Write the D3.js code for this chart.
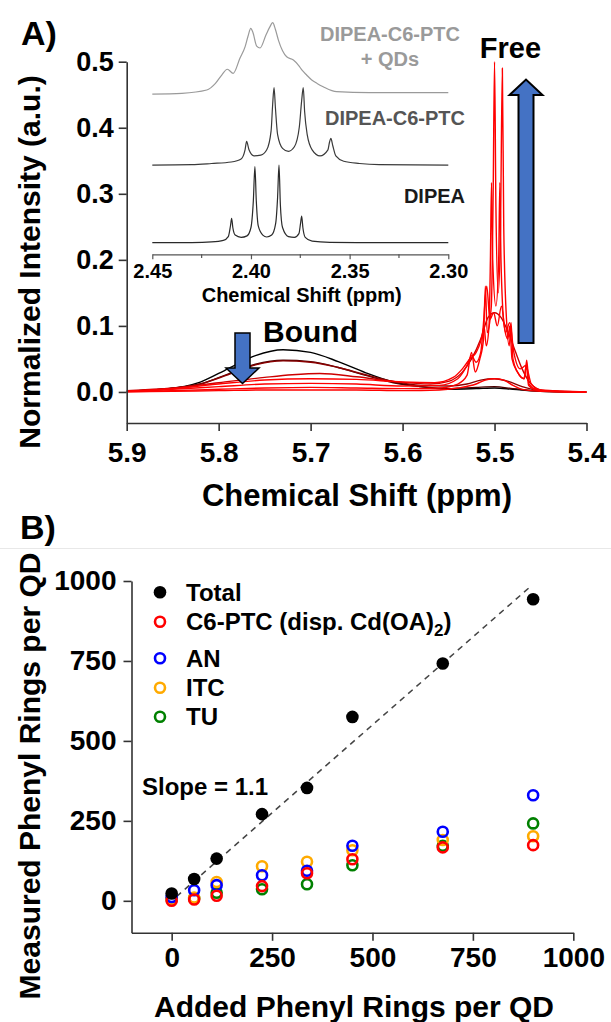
<!DOCTYPE html>
<html><head><meta charset="utf-8">
<script src="https://cdn.jsdelivr.net/npm/d3@7"></script>
<style>
body{margin:0;background:#fff;}
svg text{font-family:"Liberation Sans",Arial,sans-serif;font-weight:bold;}
</style></head>
<body><svg id="c" width="611" height="1022"></svg>
<script>
// ---------- Panel A: main spectra (ppm, normalized intensity) ----------
const mainXTicks = [5.9, 5.8, 5.7, 5.6, 5.5, 5.4];
const mainYTicks = [0.0, 0.1, 0.2, 0.3, 0.4, 0.5];
const spec1 = [[5.90,0.001],[5.86,0.004],[5.82,0.015],[5.79,0.035],[5.76,0.055],[5.73,0.064],[5.70,0.060],[5.67,0.046],[5.64,0.029],[5.61,0.015],[5.58,0.008],[5.55,0.004],[5.52,0.005],[5.50,0.006],[5.48,0.004],[5.45,0.001],[5.40,0.0]];
const spec2 = [[5.90,0.001],[5.86,0.004],[5.82,0.012],[5.79,0.027],[5.76,0.042],[5.73,0.048],[5.70,0.046],[5.67,0.037],[5.64,0.025],[5.61,0.014],[5.58,0.008],[5.55,0.005],[5.52,0.007],[5.50,0.008],[5.48,0.005],[5.45,0.001],[5.40,0.0]];
const spec3 = [[5.90,0.001],[5.86,0.004],[5.82,0.012],[5.79,0.026],[5.76,0.041],[5.73,0.047],[5.70,0.045],[5.67,0.037],[5.64,0.026],[5.61,0.016],[5.58,0.010],[5.55,0.009],[5.53,0.012],[5.515,0.018],[5.50,0.02],[5.485,0.016],[5.47,0.008],[5.45,0.002],[5.40,0.0]];
const spec4 = [[5.90,0.002],[5.85,0.006],[5.80,0.014],[5.75,0.022],[5.72,0.026],[5.69,0.028],[5.65,0.023],[5.61,0.016],[5.57,0.012],[5.55,0.016],[5.535,0.03],[5.525,0.05],[5.515,0.08],[5.507,0.113],[5.50,0.12],[5.493,0.113],[5.485,0.09],[5.477,0.06],[5.47,0.035],[5.462,0.015],[5.455,0.006],[5.445,0.002],[5.40,0.0]];
const spec5 = [[5.90,0.001],[5.85,0.005],[5.80,0.012],[5.75,0.018],[5.70,0.02],[5.65,0.019],[5.60,0.015],[5.565,0.014],[5.545,0.022],[5.535,0.035],[5.527,0.05],[5.52,0.06],[5.513,0.09],[5.5085,0.16],[5.505,0.11],[5.501,0.12],[5.497,0.1],[5.4925,0.13],[5.488,0.09],[5.4835,0.105],[5.479,0.06],[5.472,0.035],[5.466,0.04],[5.46,0.012],[5.45,0.003],[5.40,0.0]];
const spec6 = [[5.90,0.001],[5.85,0.004],[5.80,0.008],[5.75,0.012],[5.70,0.013],[5.65,0.012],[5.60,0.009],[5.56,0.01],[5.54,0.02],[5.53,0.04],[5.525,0.055],[5.52,0.045],[5.515,0.06],[5.5115,0.1],[5.509,0.07],[5.506,0.1],[5.5045,0.2],[5.5033,0.317],[5.502,0.2],[5.4985,0.13],[5.4955,0.2],[5.4942,0.317],[5.493,0.2],[5.4895,0.1],[5.4855,0.08],[5.4835,0.1],[5.481,0.05],[5.475,0.03],[5.468,0.02],[5.4655,0.04],[5.463,0.01],[5.455,0.003],[5.44,0.001],[5.40,0.0]];
const spec7 = [[5.90,0.001],[5.85,0.002],[5.80,0.004],[5.75,0.006],[5.70,0.007],[5.65,0.006],[5.60,0.005],[5.56,0.006],[5.54,0.012],[5.53,0.025],[5.525,0.06],[5.521,0.03],[5.516,0.05],[5.512,0.08],[5.510,0.16],[5.508,0.09],[5.5035,0.13],[5.5015,0.3],[5.500,0.50],[5.4985,0.28],[5.496,0.15],[5.4935,0.25],[5.4915,0.49],[5.490,0.25],[5.487,0.11],[5.484,0.07],[5.482,0.105],[5.480,0.05],[5.475,0.03],[5.4675,0.02],[5.465,0.048],[5.4625,0.012],[5.455,0.004],[5.44,0.001],[5.40,0.0]];
const spec8 = [[5.90,0.0],[5.85,0.001],[5.80,0.002],[5.75,0.003],[5.70,0.003],[5.65,0.003],[5.60,0.002],[5.56,0.003],[5.54,0.006],[5.52,0.012],[5.51,0.018],[5.50,0.02],[5.49,0.018],[5.48,0.01],[5.47,0.004],[5.45,0.001],[5.40,0.0]];
const mainSpectra = [spec1, spec2, spec3, spec8, spec4, spec5, spec6, spec7];
const mainColorsOrdered = ["#000000", "#4a0000", "#8b0000", "#ff0000", "#cc0000", "#ff0000", "#ff0000", "#ff0000"];

// ---------- Panel A inset ----------
const insetXTicks = [2.45, 2.40, 2.35, 2.30];
const insetMinorTicks = [2.425, 2.375, 2.325];
const insetNames = ["DIPEA", "DIPEA-C6-PTC", "DIPEA-C6-PTC"];
const insetOffsets = [0, 1.022, 1.966];
const insetColors = ["#2a2a2a", "#3a3a3a", "#9a9a9a"];
const insetDIPEA = [[2.45,0],[2.43,0.002],[2.42,0.01],[2.414,0.03],[2.4115,0.08],[2.4104,0.22],[2.4098,0.32],[2.4092,0.2],[2.408,0.1],[2.405,0.07],[2.402,0.09],[2.400,0.2],[2.3988,0.55],[2.398,1.0],[2.3973,0.55],[2.3963,0.22],[2.394,0.1],[2.392,0.075],[2.3895,0.1],[2.3875,0.25],[2.3865,0.6],[2.3858,1.02],[2.3851,0.5],[2.384,0.2],[2.381,0.08],[2.378,0.07],[2.3757,0.12],[2.3749,0.25],[2.3743,0.35],[2.3737,0.2],[2.3725,0.07],[2.369,0.02],[2.36,0.005],[2.34,0.001],[2.30,0]];
const insetPTC = [[2.45,0],[2.43,0.005],[2.42,0.02],[2.41,0.04],[2.405,0.08],[2.403,0.2],[2.4022,0.31],[2.401,0.2],[2.3985,0.12],[2.395,0.13],[2.392,0.2],[2.3898,0.45],[2.389,0.8],[2.3883,1.02],[2.3876,0.75],[2.3865,0.4],[2.384,0.22],[2.381,0.18],[2.378,0.24],[2.3755,0.5],[2.3743,0.85],[2.3735,1.02],[2.3728,0.7],[2.3715,0.4],[2.369,0.2],[2.365,0.12],[2.361,0.2],[2.3602,0.3],[2.3595,0.35],[2.3585,0.25],[2.357,0.12],[2.353,0.05],[2.345,0.02],[2.335,0.005],[2.30,0]];
const insetQD = [[2.45,-0.01],[2.435,0.0],[2.4224,0.043],[2.418,0.13],[2.4148,0.24],[2.412,0.316],[2.409,0.263],[2.4056,0.46],[2.403,0.61],[2.4015,0.75],[2.4001,0.855],[2.399,0.8],[2.3971,0.62],[2.3954,0.596],[2.3924,0.767],[2.3905,0.87],[2.389,0.929],[2.3876,0.84],[2.3861,0.70],[2.384,0.56],[2.3819,0.48],[2.3785,0.438],[2.376,0.372],[2.374,0.3],[2.3718,0.24],[2.3692,0.175],[2.3665,0.13],[2.3634,0.087],[2.3566,0.021],[2.34,0.008],[2.30,0.008]];
const insetSpectra = [insetDIPEA, insetPTC, insetQD];

// ---------- Panel B: scatter ----------
const addedRings = [0, 56, 112, 225, 337, 450, 675, 900];
const totalRings = [23, 68, 132, 271, 353, 575, 742, 943];
const c6ptcRings = [0, 4, 16, 46, 86, 130, 167, 174];
const anRings = [12, 33, 49, 80, 94, 172, 216, 330];
const itcRings = [5, 10, 59, 108, 122, 158, 190, 202];
const tuRings = [5, 8, 25, 36, 52, 111, 172, 242];
const bXTicks = [0, 250, 500, 750, 1000];
const bYTicks = [0, 250, 500, 750, 1000];
const fitX = [12, 890];
const fitSlope = 1.1;
const legendLabels = ["Total", "C6-PTC (disp. Cd(OA)", "AN", "ITC", "TU"];
const legendColors = ["#000000", "#ff0000", "#0000ff", "#ffaa00", "#008000"];

const svg = d3.select("#c");
const FONT = "'Liberation Sans',Arial,sans-serif";

// separator
svg.append("line").attr("x1",0).attr("x2",611).attr("y1",548.5).attr("y2",548.5).attr("stroke","#e8e8e8").attr("stroke-width",1);

// ===== Panel A =====
const xA = d3.scaleLinear().domain([5.9, 5.4]).range([126.7, 586.5]);
const yA = d3.scaleLinear().domain([-0.047, 0.5]).range([423, 61.7]);

svg.append("defs").append("clipPath").attr("id","clipA").append("rect")
  .attr("x",126.7).attr("y",40).attr("width",586.5-126.7).attr("height",383);

const lineA = d3.line().x(d=>xA(d[0])).y(d=>yA(d[1])).curve(d3.curveMonotoneX);
const gSpec = svg.append("g").attr("clip-path","url(#clipA)");
mainSpectra.forEach((s,i)=>{
  gSpec.append("path").attr("d",lineA(s)).attr("fill","none")
    .attr("stroke",mainColorsOrdered[i]).attr("stroke-width",1.4);
});

function styleAxis(g, fs){
  g.selectAll("path.domain").attr("stroke","#333").attr("stroke-width",1.6);
  g.selectAll(".tick line").attr("stroke","#333").attr("stroke-width",1.6);
  g.selectAll(".tick text").attr("font-size",fs).attr("font-family",FONT).attr("font-weight","bold").attr("fill","#000");
}
const axAy = svg.append("g").attr("transform","translate(126.7,0)")
  .call(d3.axisLeft(yA).tickValues(mainYTicks).tickFormat(d3.format(".1f")).tickSize(8).tickSizeOuter(0).tickPadding(5));
styleAxis(axAy, 27);
const axAx = svg.append("g").attr("transform","translate(0,423)")
  .call(d3.axisBottom(xA).tickValues(mainXTicks).tickFormat(d3.format(".1f")).tickSize(8).tickSizeOuter(0).tickPadding(11));
styleAxis(axAx, 28);

svg.append("text").attr("x",357).attr("y",506).attr("text-anchor","middle").attr("font-size",31).text("Chemical Shift (ppm)");
svg.append("text").attr("transform","translate(40,262) rotate(-90)").attr("text-anchor","middle").attr("font-size",30).text("Normalized Intensity (a.u.)");
svg.append("text").attr("x",21).attr("y",45).attr("font-size",34).text("A)");

// arrows
function vArrow(x0, x1, hx0, hx1, yShaft, yHead, yTip){
  return `M${x0},${yShaft} L${x0},${yHead} L${hx0},${yHead} L${(hx0+hx1)/2},${yTip} L${hx1},${yHead} L${x1},${yHead} L${x1},${yShaft} Z`;
}
svg.append("path").attr("d",vArrow(518.5,533.5,509.5,542.5,343,95,79.5))
  .attr("fill","#4472c4").attr("stroke","#000").attr("stroke-width",2).attr("stroke-linejoin","miter");
svg.append("path").attr("d",vArrow(235,250,226,259,333,368,383.5))
  .attr("fill","#4472c4").attr("stroke","#000").attr("stroke-width",1.5);
svg.append("text").attr("x",510.5).attr("y",58).attr("text-anchor","middle").attr("font-size",29).text("Free");
svg.append("text").attr("x",263).attr("y",342).attr("font-size",30).text("Bound");

// inset
const xI = d3.scaleLinear().domain([2.45, 2.30]).range([152.3, 448.3]);
const yI = d3.scaleLinear().domain([0, 1]).range([242.7, 166.7]);
insetSpectra.forEach((s,i)=>{
  const ln = d3.line().x(d=>xI(d[0])).y(d=>yI(d[1]+insetOffsets[i])).curve(d3.curveMonotoneX);
  svg.append("path").attr("d",ln(s)).attr("fill","none").attr("stroke",insetColors[i]).attr("stroke-width",1.2);
});
const axI = svg.append("g").attr("transform","translate(0,254.3)")
  .call(d3.axisBottom(xI).tickValues(insetXTicks).tickFormat(d3.format(".2f")).tickSize(5).tickSizeOuter(0).tickPadding(5));
styleAxis(axI, 20);
axI.selectAll("path.domain").attr("stroke-width",1.2).attr("stroke","#555");
axI.selectAll(".tick line").attr("stroke-width",1.2).attr("stroke","#555");
svg.append("g").selectAll("line").data(insetMinorTicks).join("line")
  .attr("x1",d=>xI(d)).attr("x2",d=>xI(d)).attr("y1",254.3).attr("y2",258).attr("stroke","#555").attr("stroke-width",1.2);
svg.append("text").attr("x",301.7).attr("y",302).attr("text-anchor","middle").attr("font-size",20).text("Chemical Shift (ppm)");
svg.append("text").attr("x",390).attr("y",41).attr("text-anchor","middle").attr("font-size",20).attr("fill","#9a9a9a").text(insetNames[2]);
svg.append("text").attr("x",390).attr("y",66).attr("text-anchor","middle").attr("font-size",20).attr("fill","#9a9a9a").text("+ QDs");
svg.append("text").attr("x",465).attr("y",125).attr("text-anchor","end").attr("font-size",20).attr("fill","#555").text(insetNames[1]);
svg.append("text").attr("x",465).attr("y",203).attr("text-anchor","end").attr("font-size",20).attr("fill","#1a1a1a").text(insetNames[0]);

// ===== Panel B =====
const xB = d3.scaleLinear().domain([-100, 1000]).range([131.5, 573.3]);
const yB = d3.scaleLinear().domain([-100, 1000]).range([932.8, 581]);
const axBy = svg.append("g").attr("transform","translate(131.5,0)")
  .call(d3.axisLeft(yB).tickValues(bYTicks).tickFormat(d3.format("d")).tickSize(8).tickSizeOuter(0).tickPadding(7));
styleAxis(axBy, 28);
const axBx = svg.append("g").attr("transform","translate(0,932.8)")
  .call(d3.axisBottom(xB).tickValues(bXTicks).tickFormat(d3.format("d")).tickSize(8).tickSizeOuter(0).tickPadding(6));
styleAxis(axBx, 28);

svg.append("text").attr("x",354).attr("y",1017).attr("text-anchor","middle").attr("font-size",30).text("Added Phenyl Rings per QD");
svg.append("text").attr("transform","translate(40,776) rotate(-90)").attr("text-anchor","middle").attr("font-size",30).text("Measured Phenyl Rings per QD");
svg.append("text").attr("x",20).attr("y",539).attr("font-size",34).text("B)");

// fit line
svg.append("line").attr("x1",xB(fitX[0])).attr("y1",yB(fitX[0]*fitSlope))
  .attr("x2",xB(fitX[1])).attr("y2",yB(fitX[1]*fitSlope))
  .attr("stroke","#444").attr("stroke-width",1.5).attr("stroke-dasharray","6,5");

const hollowSeries = [tuRings, itcRings, anRings, c6ptcRings];
const hollowColors = ["#008000", "#ffaa00", "#0000ff", "#ff0000"];
hollowSeries.forEach((ser,i)=>{
  svg.append("g").selectAll("circle").data(ser).join("circle")
    .attr("cx",(d,j)=>xB(addedRings[j])).attr("cy",d=>yB(d)).attr("r",5)
    .attr("fill","none").attr("stroke",hollowColors[i]).attr("stroke-width",2.6);
});
svg.append("g").selectAll("circle").data(totalRings).join("circle")
  .attr("cx",(d,j)=>xB(addedRings[j])).attr("cy",d=>yB(d)).attr("r",6.3).attr("fill","#000");

svg.append("text").attr("x",142).attr("y",795).attr("font-size",24).text("Slope = 1.1");

// legend
const legY = [592.3, 621.7, 658.3, 687.7, 716.7];
legendLabels.forEach((lab,i)=>{
  if(i===0){
    svg.append("circle").attr("cx",160).attr("cy",legY[i]).attr("r",6.3).attr("fill","#000");
  } else {
    svg.append("circle").attr("cx",160).attr("cy",legY[i]).attr("r",5).attr("fill","none").attr("stroke",legendColors[i]).attr("stroke-width",2.6);
  }
  const t = svg.append("text").attr("x",186).attr("y",legY[i]+8.5).attr("font-size",24).text(lab);
  if(i===1){
    t.append("tspan").attr("font-size",17).attr("dy",6).text("2");
    t.append("tspan").attr("dy",-6).text(")");
  }
});
</script></body></html>
